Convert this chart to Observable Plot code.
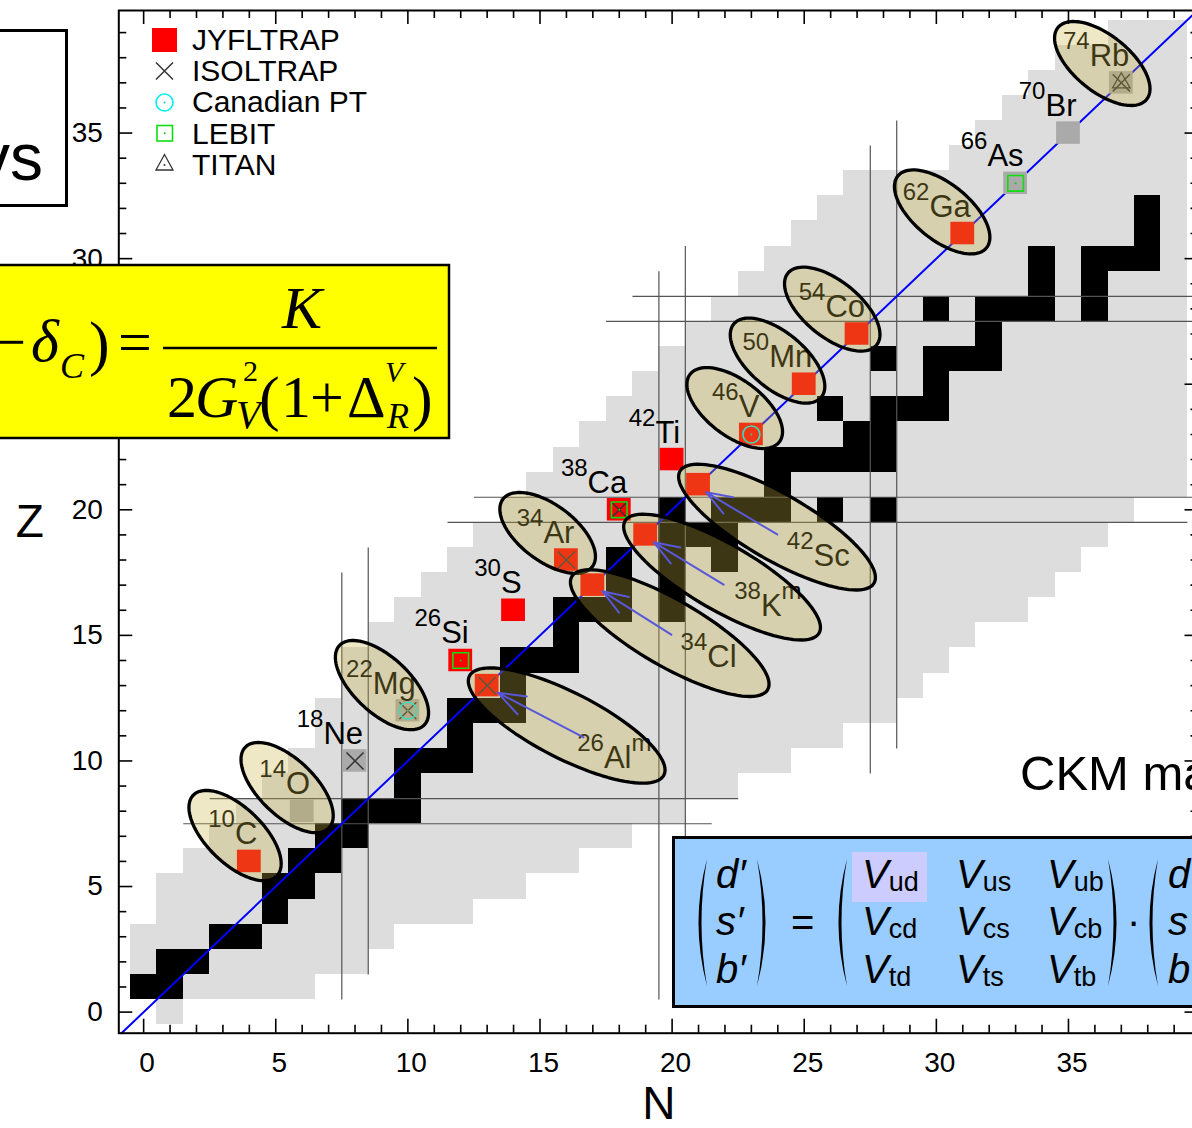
<!DOCTYPE html>
<html>
<head>
<meta charset="utf-8">
<script src="https://cdn.jsdelivr.net/npm/d3@7"></script>
<script src="https://cdn.jsdelivr.net/npm/@observablehq/plot@0.6"></script>
<style>
  html, body { margin: 0; padding: 0; background: #fff; overflow: hidden; width: 1192px; height: 1128px; }
  #page { position: relative; width: 1240px; height: 1128px; }
  #page > svg { position: absolute; left: 0; top: 0; }
</style>
</head>
<body>
<div id="page"></div>
<script>
// ---------------------------------------------------------------------------
// Chart of the light nuclides (N vs Z) with the superallowed 0+ -> 0+ emitters
// ---------------------------------------------------------------------------

// Extent of the charted nuclides: lowest and highest Z for each neutron number N
const columnN    = [0,1,2,3,4,5,6,7,8,9,10,11,12,13,14,15,16,17,18,19,20,21,22,23,24,25,26,27,28,29,30,31,32,33,34,35,36,37,38,39];
const columnZmin = [1,0,1,1,1,1,1,2,2,3,4,4,4,5,5,6,6,7,7,8,8,9,9,10,10,11,11,12,12,13,14,15,16,16,17,18,19,20,21,21];
const columnZmax = [3,5,6,7,8,9,10,12,14,15,16,17,18,19,20,21,22,23,24,25,26,27,28,29,30,31,32,33,33,33,33,34,35,36,37,38,38,39,39,39];

// Stable (and primordial) nuclides as [N, Z]
const stableNuclides = [
  [0,1],[1,1],[1,2],[2,2],[3,3],[4,3],[5,4],[5,5],[6,5],[6,6],[7,6],[7,7],[8,7],
  [8,8],[9,8],[10,8],[10,9],[10,10],[11,10],[12,10],[12,11],[12,12],[13,12],[14,12],
  [14,13],[14,14],[15,14],[16,14],[16,15],[16,16],[17,16],[18,16],[20,16],[18,17],[20,17],
  [18,18],[20,18],[22,18],[20,19],[21,19],[22,19],[20,20],[22,20],[23,20],[24,20],[26,20],[28,20],
  [24,21],[24,22],[25,22],[26,22],[27,22],[28,22],[27,23],[28,23],[26,24],[28,24],[29,24],[30,24],
  [30,25],[28,26],[30,26],[31,26],[32,26],[32,27],[30,28],[32,28],[33,28],[34,28],[36,28],
  [34,29],[36,29],[34,30],[36,30],[37,30],[38,30],[38,31],[38,32]
];

// Shell closures N, Z = 8, 20, 28: segment ends [N1, Z1, N2, Z2]
const shellLines = [
  [7.5,0.5,7.5,17.5],[8.5,1.5,8.5,18.5],
  [19.5,0.5,19.5,29.5],[20.5,1.5,20.5,30.5],
  [27.5,9.5,27.5,34.5],[28.5,10.5,28.5,35.5],
  [1.5,7.5,21.5,7.5],[2.5,8.5,22.5,8.5],
  [11.5,19.5,39.5,19.5],[12.5,20.5,40.5,20.5],
  [17.5,27.5,45.5,27.5],[18.5,28.5,46.5,28.5]
];

// Penning-trap measurements, nuclides as [N, Z]
const jyfltrap   = [[4,6],[13,13],[12,14],[14,16],[16,18],[17,17],[18,20],[19,19],[20,22],[21,21],[23,23],[25,25],[27,27],[31,31]];
const otherTraps = [[6,8],[8,10],[10,12],[33,33],[35,35],[37,37]];
const isoltrap   = [[8,10],[10,12],[13,13],[16,18],[18,20],[37,37]];
const canadianPT = [[10,12],[23,23]];
const lebit      = [[12,14],[18,20],[33,33]];
const titan      = [[37,37]];

// Nuclide names written above-left of their cell
const labelMass   = ["10","14","18","22","26","30","34","38","42","46","50","54","62","66","70","74"];
const labelSymbol = ["C","O","Ne","Mg","Si","S","Ar","Ca","Ti","V","Mn","Co","Ga","As","Br","Rb"];
const labelN      = [4,6,8,10,12,14,16,18,20,23,25,27,31,33,35,37];
const labelZ      = [6,8,10,12,14,16,18,20,22,23,25,27,31,33,35,37];

// Odd-odd emitters named inside their ellipse, with an arrow to the cell
const arrowMass    = ["26","34","38","42"];
const arrowSymbol  = ["Al","Cl","K","Sc"];
const arrowIsomer  = ["m","","m",""];
const arrowLabelN  = [19.22,22.44,24.90,26.72];
const arrowLabelZ  = [9.70,13.76,15.77,17.76];
const arrowTailN   = [16.65,19.97,21.95,23.98];
const arrowTailZ   = [10.94,15.03,17.02,19.02];
const arrowHeadN   = [13.40,17.36,19.30,21.28];
const arrowHeadZ   = [12.72,16.76,18.71,20.70];

// Ellipses round the emitters: centre (N, Z), semi-axes in cell widths, tilt in degrees
const ellipseN     = [3.46,5.43,9.02,16.01,15.29,19.91,21.89,23.97,22.37,23.99,26.06,30.22,36.28];
const ellipseZ     = [7.03,8.94,13.02,11.41,19.08,15.09,17.32,19.31,24.05,25.94,27.99,31.86,37.77];
const ellipseMajor = [2.20,2.20,2.20,4.13,2.12,4.28,4.24,4.24,2.12,2.16,2.16,2.16,2.16];
const ellipseMinor = [1.06,1.06,1.06,1.25,1.06,1.25,1.25,1.25,1.06,1.06,1.06,1.06,1.06];
const ellipseTilt  = [44,44,43,27,37,30,30,30,37,40,39,39,39];

// Axis ticks
const xTickLabels = [0,5,10,15,20,25,30,35];
const yTickLabels = [0,5,10,15,20,25,30,35];

// ---------------------------------------------------------------------------
const W = 1240, H = 1128;
const FRAME = {left: 118.3, top: 10, right: 1198.5, bottom: 1032.7};
const xDomain = [-0.94, 39.94], yDomain = [-0.84, 39.88];
const plotW = FRAME.right - FRAME.left, plotH = FRAME.bottom - FRAME.top;
const aspect = (plotW / (xDomain[1] - xDomain[0])) / (plotH / (yDomain[1] - yDomain[0]));

const columns = columnN.map((N, i) => ({N, zmin: columnZmin[i], zmax: columnZmax[i]}));
const labels = labelMass.map((m, i) => ({text: `${m}|${labelSymbol[i]}|`, N: labelN[i], Z: labelZ[i]}));
const arrowLabels = arrowMass.map((m, i) => ({text: `${m}|${arrowSymbol[i]}|${arrowIsomer[i]}`, N: arrowLabelN[i], Z: arrowLabelZ[i]}));
const arrows = arrowMass.map((m, i) => ({x1: arrowTailN[i], y1: arrowTailZ[i], x2: arrowHeadN[i], y2: arrowHeadZ[i]}));

// outline points of every ellipse, in (N, Z)
const ellipsePoints = ellipseN.flatMap((cx, k) => {
  const th = ellipseTilt[k] * Math.PI / 180;
  return d3.range(96).map(i => {
    const t = 2 * Math.PI * i / 96;
    const u = ellipseMajor[k] * Math.cos(t), v = ellipseMinor[k] * Math.sin(t);
    const dx = u * Math.cos(th) - v * Math.sin(th);
    const dy = u * Math.sin(th) + v * Math.cos(th);
    return {k, N: cx + dx, Z: ellipseZ[k] - dy * aspect};
  });
});

const cellX1 = d => d[0] - 0.5, cellX2 = d => d[0] + 0.5;
const cellY1 = d => d[1] - 0.5, cellY2 = d => d[1] + 0.5;
const minorTicks = d3.range(0, 40).filter(v => v % 5 !== 0);

const chart = Plot.plot({
  width: W, height: H,
  marginLeft: FRAME.left, marginTop: FRAME.top,
  marginRight: W - FRAME.right, marginBottom: H - FRAME.bottom,
  x: {domain: xDomain, axis: null},
  y: {domain: yDomain, axis: null},
  style: {fontFamily: "'Liberation Sans', Arial, Helvetica, sans-serif", background: "white", color: "black", maxWidth: "none"},
  marks: [
    // charted nuclides and stable nuclides
    Plot.rect(columns, {x1: d => d.N - 0.5, x2: d => d.N + 0.5, y1: d => d.zmin - 0.5, y2: d => d.zmax + 0.5, fill: "#dddddd", shapeRendering: "crispEdges"}),
    Plot.rect(stableNuclides, {x1: cellX1, x2: cellX2, y1: cellY1, y2: cellY2, fill: "black", shapeRendering: "crispEdges"}),
    // magic numbers
    Plot.link(shellLines, {x1: d => d[0], y1: d => d[1], x2: d => d[2], y2: d => d[3], stroke: "#555", strokeWidth: 1.2}),
    // N = Z
    Plot.line([[-0.84, -0.84], [39.88, 39.88]], {stroke: "#0000ff", strokeWidth: 2}),
    // measured nuclides
    Plot.rect(otherTraps, {x1: cellX1, x2: cellX2, y1: cellY1, y2: cellY2, inset: 1.3, fill: "#aaaaaa"}),
    Plot.rect(jyfltrap, {x1: cellX1, x2: cellX2, y1: cellY1, y2: cellY2, inset: 1.3, fill: "#ff0000"}),
    Plot.dot(isoltrap, {x: d => d[0], y: d => d[1], symbol: "times", r: 7.8, stroke: "#333", strokeWidth: 1.5}),
    Plot.dot(canadianPT, {x: d => d[0], y: d => d[1], symbol: "circle", r: 8.5, stroke: "#00eeee", strokeWidth: 1.6, fill: "none"}),
    Plot.dot(canadianPT, {x: d => d[0], y: d => d[1], r: 1, fill: "#00cccc"}),
    Plot.dot(lebit, {x: d => d[0], y: d => d[1], symbol: "square", r: 8.8, stroke: "#11dd11", strokeWidth: 1.6, fill: "none"}),
    Plot.dot(lebit, {x: d => d[0], y: d => d[1], r: 1, fill: "#11cc11"}),
    Plot.dot(titan, {x: d => d[0], y: d => d[1], symbol: "triangle", r: 6.5, stroke: "#333", strokeWidth: 1.3, fill: "none"}),
    Plot.dot(titan, {x: d => d[0], y: d => d[1], r: 1, fill: "#333"}),
    // nuclide names
    Plot.text(labels, {x: "N", y: "Z", text: "text", textAnchor: "end", lineAnchor: "bottom", dx: 8, dy: -17, fontSize: 31, fill: "black"}),
    Plot.text(arrowLabels, {x: "N", y: "Z", text: "text", textAnchor: "end", lineAnchor: "bottom", fontSize: 31, fill: "black"}),
    // ellipses
    Plot.line(ellipsePoints, {x: "N", y: "Z", z: "k", curve: "linear-closed", fill: "rgb(200,180,70)", fillOpacity: 0.3, stroke: "black", strokeWidth: 3.3}),
    Plot.arrow(arrows, {x1: "x1", y1: "y1", x2: "x2", y2: "y2", stroke: "#5858d8", strokeWidth: 2, headLength: 22, headAngle: 40}),
    // ticks on all four sides, pointing inward
    Plot.tickX(xTickLabels, {x: d => d, insetTop: plotH - 14, strokeWidth: 1.6}),
    Plot.tickX(minorTicks, {x: d => d, insetTop: plotH - 8, strokeWidth: 1.6}),
    Plot.tickX(xTickLabels, {x: d => d, insetBottom: plotH - 14, strokeWidth: 1.6}),
    Plot.tickX(minorTicks, {x: d => d, insetBottom: plotH - 8, strokeWidth: 1.6}),
    Plot.tickY(yTickLabels, {y: d => d, insetRight: plotW - 14, strokeWidth: 1.6}),
    Plot.tickY(minorTicks, {y: d => d, insetRight: plotW - 8, strokeWidth: 1.6}),
    Plot.tickY(yTickLabels, {y: d => d, insetLeft: plotW - 14, strokeWidth: 1.6}),
    Plot.tickY(minorTicks, {y: d => d, insetLeft: plotW - 8, strokeWidth: 1.6}),
    Plot.frame({stroke: "black", strokeWidth: 2}),
    // tick labels and axis titles
    Plot.text(xTickLabels, {x: d => d, text: d => String(d), frameAnchor: "bottom", dy: 39, dx: 3.5, fontSize: 28}),
    Plot.text(yTickLabels, {y: d => d, text: d => String(d), frameAnchor: "left", textAnchor: "end", dx: -16, fontSize: 28}),
    Plot.text(["N"], {text: d => d, frameAnchor: "bottom", dy: 86, fontSize: 46}),
    Plot.text(["Z"], {text: d => d, frameAnchor: "left", dx: -103, fontSize: 46})
  ]
});

// mass numbers (and isomer marks) as raised, smaller text
chart.querySelectorAll("text").forEach(t => {
  const s = t.textContent;
  if (!s.includes("|")) return;
  const [mass, sym, iso] = s.split("|");
  t.textContent = "";
  const ns = "http://www.w3.org/2000/svg";
  const add = (str, size, dy) => {
    const ts = document.createElementNS(ns, "tspan");
    if (size) ts.setAttribute("font-size", size);
    ts.setAttribute("dy", dy);
    ts.textContent = str;
    t.appendChild(ts);
  };
  add(mass, 24, -17);
  add(sym, null, 17);
  if (iso) add(iso, 24, -17);
});

document.getElementById("page").appendChild(chart);

// ---------------------------------------------------------------------------
// Slide elements laid over the chart: legend, formula, CKM matrix
const paren = (x, y0, y1, dir) => {
  const m = (y0 + y1) / 2, o = x - dir * 17, i = x - dir * 11;
  return `<path d="M${x},${y0} Q${o},${m} ${x},${y1} Q${i},${m} ${x},${y0} Z" fill="#000"/>`;
};
const overlay = `
<svg xmlns="http://www.w3.org/2000/svg" width="1192" height="1128" style="position:absolute;left:0;top:0;pointer-events:none">
  <g font-family="'Liberation Sans', Arial, Helvetica, sans-serif" font-size="30" fill="#000">
    <rect x="152" y="28" width="25" height="24" fill="#ff0000"/>
    <path d="M156,62.5 L173,79.5 M156,79.5 L173,62.5" stroke="#333" stroke-width="1.5"/>
    <circle cx="164.5" cy="102.5" r="8.5" fill="none" stroke="#00eeee" stroke-width="1.6"/>
    <circle cx="164.5" cy="102.5" r="1" fill="#00cccc"/>
    <rect x="157" y="125.5" width="15.5" height="15.5" fill="none" stroke="#11dd11" stroke-width="1.6"/>
    <circle cx="164.75" cy="133.25" r="1" fill="#11cc11"/>
    <path d="M164.5,154.5 L156,170 L173,170 Z" fill="none" stroke="#333" stroke-width="1.3"/>
    <circle cx="164.5" cy="165" r="1" fill="#333"/>
    <text x="192" y="50">JYFLTRAP</text>
    <text x="192" y="81">ISOLTRAP</text>
    <text x="192" y="112">Canadian PT</text>
    <text x="192" y="143.5">LEBIT</text>
    <text x="192" y="174.5">TITAN</text>
  </g>

  <rect x="-20" y="30.5" width="86.5" height="175" fill="#fff" stroke="#000" stroke-width="3"/>
  <text x="43" y="180" text-anchor="end" font-family="'Liberation Sans', Arial, sans-serif" font-size="66">vs</text>

  <g font-family="'Liberation Serif', 'Times New Roman', serif" fill="#000">
    <rect x="-20" y="265" width="469" height="173" fill="#ffff00" stroke="#000" stroke-width="2.5"/>
    <text x="26" y="362" font-size="60" text-anchor="end">−</text>
    <text x="31" y="361" font-size="60" font-style="italic">δ</text>
    <text x="60" y="378" font-size="36" font-style="italic">C</text>
    <text x="89" y="364" font-size="62">)</text>
    <text x="118" y="362" font-size="60">=</text>
    <line x1="163" y1="348" x2="437" y2="348" stroke="#000" stroke-width="2.5"/>
    <text x="302" y="328" font-size="60" font-style="italic" text-anchor="middle">K</text>
    <text x="167" y="417" font-size="60">2</text>
    <text x="195" y="417" font-size="60" font-style="italic">G</text>
    <text x="243" y="381" font-size="30">2</text>
    <text x="236" y="428" font-size="40" font-style="italic">V</text>
    <text x="259" y="419" font-size="62">(</text>
    <text x="281" y="417" font-size="60">1</text>
    <text x="310" y="417" font-size="60">+</text>
    <text x="347" y="417" font-size="60">Δ</text>
    <text x="385" y="382" font-size="30" font-style="italic">V</text>
    <text x="387" y="428" font-size="36" font-style="italic">R</text>
    <text x="412" y="419" font-size="62">)</text>
  </g>

  <text x="1020" y="790" font-family="'Liberation Sans', Arial, sans-serif" font-size="49">CKM matrix</text>

  <g font-family="'Liberation Sans', Arial, Helvetica, sans-serif" fill="#000">
    <rect x="673.5" y="837.5" width="560" height="169" fill="#99ccff" stroke="#000" stroke-width="3"/>
    <rect x="852" y="852" width="75" height="50" fill="#ccccff"/>
    ${paren(707, 859, 986, 1)}
    ${paren(757, 859, 986, -1)}
    ${paren(847, 859, 986, 1)}
    ${paren(1108, 859, 986, -1)}
    ${paren(1158, 859, 986, 1)}
    <g font-size="40" font-style="italic">
      <text x="716" y="888">d′</text>
      <text x="716" y="935">s′</text>
      <text x="716" y="983">b′</text>
      <text x="1168" y="888">d</text>
      <text x="1168" y="935">s</text>
      <text x="1168" y="983">b</text>
    </g>
    <text x="791" y="936" font-size="40">=</text>
    <text x="1127" y="935" font-size="40">·</text>
    <g font-size="40">
      <text x="862" y="888"><tspan font-style="italic">V</tspan><tspan font-size="27" dy="3">ud</tspan></text>
      <text x="956" y="888"><tspan font-style="italic">V</tspan><tspan font-size="27" dy="3">us</tspan></text>
      <text x="1047" y="888"><tspan font-style="italic">V</tspan><tspan font-size="27" dy="3">ub</tspan></text>
      <text x="862" y="935"><tspan font-style="italic">V</tspan><tspan font-size="27" dy="3">cd</tspan></text>
      <text x="956" y="935"><tspan font-style="italic">V</tspan><tspan font-size="27" dy="3">cs</tspan></text>
      <text x="1047" y="935"><tspan font-style="italic">V</tspan><tspan font-size="27" dy="3">cb</tspan></text>
      <text x="862" y="983"><tspan font-style="italic">V</tspan><tspan font-size="27" dy="3">td</tspan></text>
      <text x="956" y="983"><tspan font-style="italic">V</tspan><tspan font-size="27" dy="3">ts</tspan></text>
      <text x="1047" y="983"><tspan font-style="italic">V</tspan><tspan font-size="27" dy="3">tb</tspan></text>
    </g>
  </g>
</svg>`;
document.getElementById("page").insertAdjacentHTML("beforeend", overlay);
</script>
</body>
</html>
